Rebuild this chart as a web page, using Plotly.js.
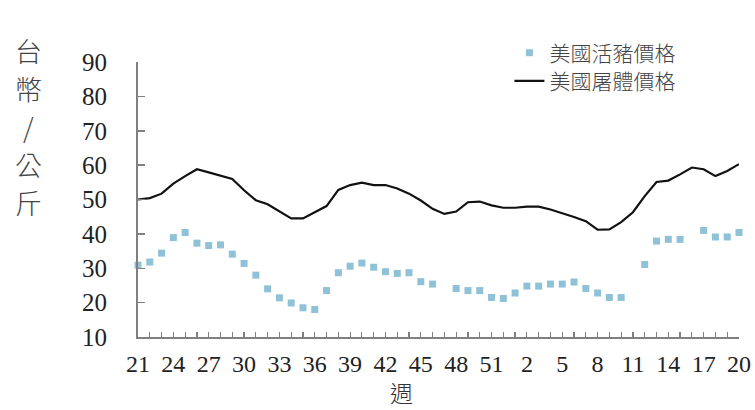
<!DOCTYPE html>
<html><head><meta charset="utf-8">
<script src="https://cdn.plot.ly/plotly-3.0.1.min.js"></script>
<style>body{margin:0;background:#fff}#c{width:755px;height:410px}</style>
</head><body><div id="c"></div>
<script>
const weeks = [21,22,23,24,25,26,27,28,29,30,31,32,33,34,35,36,37,38,39,40,41,42,43,44,45,46,47,48,49,50,51,52,
  1,2,3,4,5,6,7,8,9,10,11,12,13,14,15,16,17,18,19,20];
const tickLabels = ['21','24','27','30','33','36','39','42','45','48','51','2','5','8','11','14','17','20'];
const livePig = [30.9,31.8,34.4,38.9,40.4,37.3,36.6,36.8,34.1,31.4,28.0,24.0,21.4,19.9,18.5,18.0,23.5,28.7,30.6,31.5,
  30.3,29.0,28.5,28.7,26.1,25.4,null,24.1,23.5,23.5,21.5,21.2,22.8,24.8,24.8,25.4,25.4,26.0,24.1,22.8,
  21.5,21.5,null,31.1,37.9,38.4,38.4,null,41.0,39.1,39.1,40.4];
const carcass = [50.0,50.4,51.7,54.6,56.8,58.8,57.9,57.0,56.0,52.7,49.8,48.6,46.5,44.5,44.5,46.3,48.1,52.8,54.2,54.9,
  54.2,54.2,53.2,51.7,49.7,47.3,45.8,46.5,49.2,49.4,48.3,47.6,47.6,47.9,47.9,47.1,46.1,44.9,43.7,41.2,
  41.3,43.4,46.3,51.0,55.1,55.5,57.3,59.3,58.8,56.8,58.3,60.3];
const yTitleChars = ['台','幣','/','公','斤'];
const idx = weeks.map((w,i)=>i);
// tick at every week, label every third week
const tickText = idx.map(i => (i % 3 === 0 ? tickLabels[i / 3] : ''));

const serif = 'Liberation Serif, Times New Roman, serif';
const cjk = 'Noto Sans CJK TC, sans-serif';

const traces = [
  {x: idx, y: livePig, name: '美國活豬價格', type: 'scatter', mode: 'markers',
   marker: {symbol: 'square', size: 7, color: '#8fc2d6'}, cliponaxis: false, legend: 'legend'},
  {x: idx, y: carcass, name: '美國屠體價格', type: 'scatter', mode: 'lines',
   line: {color: '#111111', width: 2.2}, cliponaxis: false, legend: 'legend2'}
];

const titleAnn = yTitleChars.map((ch, k) => ({
  text: ch, xref: 'paper', yref: 'paper', x: -0.183, xanchor: 'center',
  y: (338 - (50 + 38.3 * k)) / 276, yanchor: 'middle', showarrow: false,
  font: {family: cjk, size: 27, color: '#444', weight: 300}
}));

const layout = {
  width: 755, height: 410,
  margin: {l: 138, r: 16, t: 62, b: 73},
  paper_bgcolor: '#fff', plot_bgcolor: '#fff',
  showlegend: true,
  legend: {x: 0.618, y: 1.032, xanchor: 'left', yanchor: 'middle', font: {family: cjk, size: 21, color: '#444', weight: 300},
    bgcolor: 'rgba(0,0,0,0)', itemwidth: 30},
  legend2: {x: 0.618, y: 0.93, xanchor: 'left', yanchor: 'middle', font: {family: cjk, size: 21, color: '#444', weight: 300},
    bgcolor: 'rgba(0,0,0,0)', itemwidth: 30},
  xaxis: {range: [0, 51], tickmode: 'array', tickvals: idx, ticktext: tickText,
    showgrid: false, zeroline: false, showline: true, linecolor: '#808080', linewidth: 2,
    ticks: 'inside', ticklen: 5, tickcolor: '#808080', tickwidth: 1.2,
    tickfont: {family: serif, size: 24, color: '#222'}, ticklabelstandoff: 4},
  yaxis: {range: [10, 90], dtick: 10, tick0: 10, showgrid: false, zeroline: false, showline: true,
    linecolor: '#808080', linewidth: 2, ticks: 'inside', ticklen: 7, tickcolor: '#808080', tickwidth: 1.5,
    tickfont: {family: serif, size: 25, color: '#222'}, ticklabelstandoff: 24},
  annotations: titleAnn.concat([
    {text: '週', xref: 'paper', yref: 'paper', x: 0.439, xanchor: 'center',
     y: -0.2, yanchor: 'middle', showarrow: false,
     font: {family: cjk, size: 23, color: '#333', weight: 300}}
  ])
};
Plotly.newPlot('c', traces, layout, {displayModeBar: false, staticPlot: true});
</script></body></html>
